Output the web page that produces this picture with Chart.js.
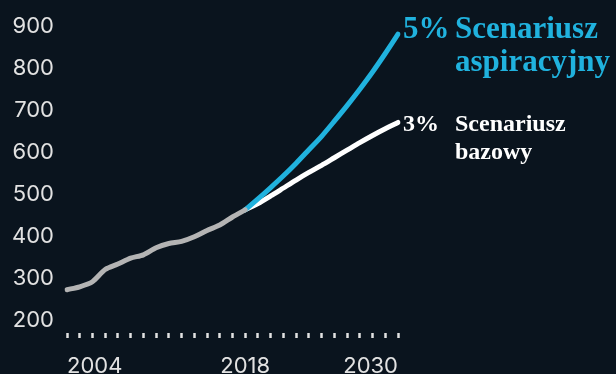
<!DOCTYPE html>
<html>
<head>
<meta charset="utf-8">
<script src="https://cdn.jsdelivr.net/npm/chart.js@4"></script>
<style>
  html, body { margin: 0; padding: 0; background: #0a141e; }
  canvas { display: block; }
</style>
</head>
<body>
<canvas id="growthChart" width="616" height="374"></canvas>
<script>
// years on the x axis (one dotted tick per year)
const years = ['2004', '2005', '2006', '2007', '2008', '2009', '2010', '2011', '2012',
  '2013', '2014', '2015', '2016', '2017', '2018', '2019', '2020', '2021', '2022',
  '2023', '2024', '2025', '2026', '2027', '2028', '2029', '2030'];
const labelYears = ['2004', '2018', '2030'];
const yTicks = [200, 300, 400, 500, 600, 700, 800, 900];

// history 2004-2018
const history = [273, 280, 292, 321, 334, 348, 356, 373, 383, 388, 399, 414, 427, 446, 463];
// scenarios 2018-2030
const aspiration = [463, 489, 516, 544, 574, 606, 638, 674, 711, 750, 791, 835, 881];
const baseline = [463, 478, 496, 515, 534, 552, 569, 587, 605, 623, 640, 656, 671];

const aspRate = '5%';
const aspLabel = ['Scenariusz', 'aspiracyjny'];
const baseRate = '3%';
const baseLabel = ['Scenariusz', 'bazowy'];

const blue = '#20b2de';
const gray = '#b4b4b4';
const tickColor = '#e2e2e2';

// pad the series so they line up with the year labels
const startIdx = years.indexOf('2018');
const histData = history.concat(new Array(years.length - history.length).fill(null));
const aspData = new Array(startIdx).fill(null).concat(aspiration);
const baseData = new Array(startIdx).fill(null).concat(baseline);

// text next to the line ends
const endLabels = {
    id: 'endLabels',
    afterDatasetsDraw(chart) {
        const ctx = chart.ctx;
        const xs = chart.scales.x;
        const ys = chart.scales.y;
        const endX = xs.getPixelForValue(years.length - 1);
        const aspY = ys.getPixelForValue(aspiration[aspiration.length - 1]);
        const baseY = ys.getPixelForValue(baseline[baseline.length - 1]);
        ctx.save();
        ctx.textAlign = 'left';
        ctx.textBaseline = 'alphabetic';

        ctx.fillStyle = blue;
        ctx.font = 'bold 31px "Liberation Serif"';
        ctx.fillText(aspRate, endX + 5, aspY + 4);
        ctx.fillText(aspLabel[0], endX + 57, aspY + 4);
        ctx.fillText(aspLabel[1], endX + 57, aspY + 37);

        ctx.fillStyle = '#ffffff';
        ctx.font = 'bold 24px "Liberation Serif"';
        ctx.fillText(baseRate, endX + 5, baseY + 9);
        ctx.fillText(baseLabel[0], endX + 57, baseY + 9);
        ctx.fillText(baseLabel[1], endX + 57, baseY + 37);
        ctx.restore();
    }
};

const canvas = document.getElementById('growthChart');
const chart = new Chart(canvas, {
    type: 'line',
    data: {
        labels: years,
        datasets: [
            {
                data: histData,
                borderColor: gray,
                borderWidth: 5,
                tension: 0.25
            },
            {
                data: aspData,
                borderColor: blue,
                borderWidth: 5,
                tension: 0.25
            },
            {
                data: baseData,
                borderColor: '#ffffff',
                borderWidth: 5,
                tension: 0.25
            }
        ]
    },
    options: {
        responsive: false,
        animation: false,
        elements: {
            point: { radius: 0 },
            line: { borderCapStyle: 'round', borderJoinStyle: 'round' }
        },
        layout: {
            padding: { top: 20, right: 218, bottom: 0, left: 0 }
        },
        plugins: {
            legend: { display: false },
            tooltip: { enabled: false }
        },
        scales: {
            x: {
                offset: false,
                border: { display: false },
                grid: {
                    drawOnChartArea: false,
                    drawTicks: true,
                    tickLength: 5,
                    tickWidth: 2.5,
                    tickColor: tickColor
                },
                ticks: {
                    autoSkip: false,
                    maxRotation: 0,
                    align: 'inner',
                    padding: 15,
                    color: tickColor,
                    font: { family: 'Inter', size: 22 },
                    callback: function(value) {
                        const yr = years[value];
                        return labelYears.includes(yr) ? yr : '';
                    }
                },
                afterFit: function(scale) { scale.height = 41; }
            },
            y: {
                min: 170,
                max: 900,
                border: { display: false },
                grid: { display: false, drawTicks: false },
                ticks: {
                    padding: 13,
                    color: tickColor,
                    font: { family: 'Inter', size: 22 }
                },
                afterBuildTicks: function(scale) {
                    scale.ticks = yTicks.map(v => ({ value: v }));
                },
                afterFit: function(scale) { scale.width = 67; }
            }
        }
    },
    plugins: [endLabels]
});
</script>
</body>
</html>
